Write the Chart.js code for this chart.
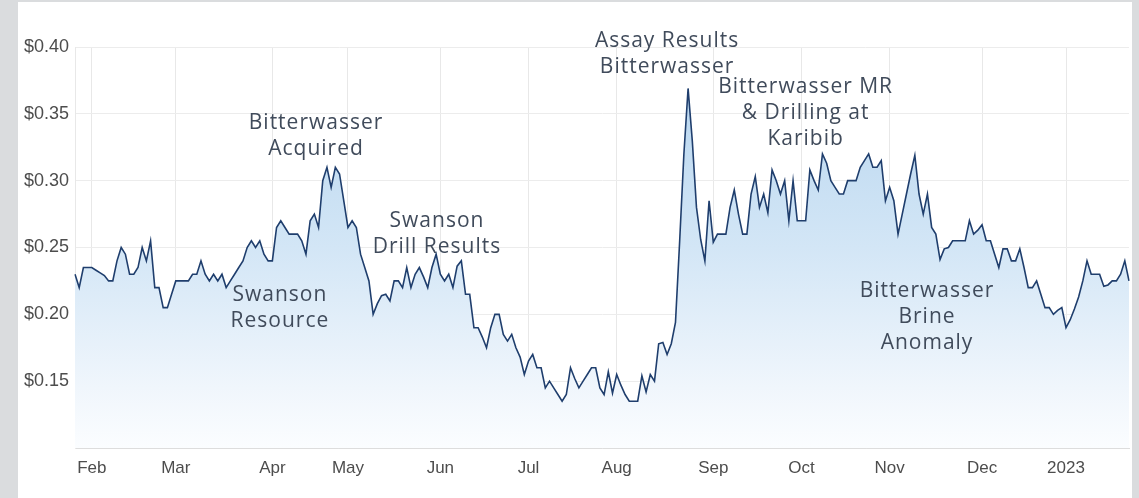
<!DOCTYPE html>
<html>
<head>
<meta charset="utf-8">
<script src="https://cdn.jsdelivr.net/npm/chart.js@4"></script>
<style>
  html, body { margin: 0; padding: 0; background: #dadcde; }
  body { width: 1139px; height: 498px; position: relative; overflow: hidden; }
  .card { position: absolute; left: 18px; top: 2px; width: 1114px; height: 496px; background: #fff; }
</style>
</head>
<body>
<div class="card"><canvas id="priceChart" width="1114" height="496"></canvas></div>
<script>
// daily closes, one array per month (ASX trading days)
const jan22 = [0.23, 0.22, 0.235, 0.235];
const feb22 = [0.235, 0.233, 0.231, 0.229, 0.225, 0.225, 0.24, 0.25, 0.245, 0.23,
               0.23, 0.235, 0.25, 0.24, 0.255, 0.22, 0.22, 0.205, 0.205, 0.215];
const mar22 = [0.225, 0.225, 0.225, 0.225, 0.23, 0.23, 0.24, 0.23, 0.225, 0.23,
               0.225, 0.23, 0.22, 0.225, 0.23, 0.235, 0.24, 0.25, 0.255, 0.25,
               0.255, 0.245, 0.24];
const apr22 = [0.24, 0.265, 0.27, 0.265, 0.26, 0.26, 0.26, 0.255, 0.245, 0.27,
               0.275, 0.265, 0.30, 0.31, 0.295, 0.31, 0.305, 0.285];
const may22 = [0.265, 0.27, 0.265, 0.245, 0.235, 0.225, 0.20, 0.208, 0.214, 0.215,
               0.21, 0.225, 0.225, 0.22, 0.235, 0.22, 0.23, 0.235, 0.228, 0.22,
               0.235, 0.245];
const jun22 = [0.23, 0.225, 0.23, 0.22, 0.236, 0.24, 0.215, 0.215, 0.19, 0.19,
               0.183, 0.175, 0.19, 0.2, 0.2, 0.185, 0.18, 0.185, 0.175, 0.168,
               0.155];
const jul22 = [0.165, 0.17, 0.16, 0.16, 0.145, 0.15, 0.145, 0.14, 0.135, 0.14,
               0.16, 0.152, 0.145, 0.15, 0.155, 0.16, 0.16, 0.145, 0.14, 0.157,
               0.141];
const aug22 = [0.155, 0.147, 0.14, 0.135, 0.135, 0.135, 0.154, 0.142, 0.155, 0.15,
               0.178, 0.179, 0.17, 0.178, 0.194, 0.255, 0.32, 0.369, 0.33, 0.28,
               0.256, 0.24, 0.285];
const sep22 = [0.254, 0.26, 0.26, 0.26, 0.28, 0.293, 0.275, 0.26, 0.26, 0.29,
               0.303, 0.28, 0.29, 0.276, 0.308, 0.30, 0.29, 0.30, 0.27, 0.30,
               0.27];
const oct22 = [0.27, 0.27, 0.308, 0.30, 0.293, 0.32, 0.313, 0.30, 0.295, 0.29,
               0.29, 0.30, 0.30, 0.30, 0.31, 0.315, 0.32, 0.31, 0.31, 0.315,
               0.285];
const nov22 = [0.295, 0.285, 0.26, 0.275, 0.29, 0.305, 0.319, 0.29, 0.275, 0.29,
               0.265, 0.26, 0.241, 0.249, 0.25, 0.255, 0.255, 0.255, 0.255, 0.27,
               0.26, 0.263];
const dec22 = [0.267, 0.255, 0.255, 0.245, 0.235, 0.249, 0.249, 0.24, 0.24, 0.249,
               0.235, 0.22, 0.22, 0.225, 0.215, 0.205, 0.205, 0.20, 0.203, 0.205];
const jan23 = [0.19, 0.196, 0.204, 0.213, 0.225, 0.24, 0.23, 0.23, 0.23, 0.221,
               0.222, 0.225, 0.225, 0.23, 0.24, 0.225];

const months = [jan22, feb22, mar22, apr22, may22, jun22, jul22, aug22, sep22, oct22, nov22, dec22, jan23];
const monthLabels = ['', 'Feb', 'Mar', 'Apr', 'May', 'Jun', 'Jul', 'Aug', 'Sep', 'Oct', 'Nov', 'Dec', '2023'];

const yTicks = [0.10, 0.15, 0.20, 0.25, 0.30, 0.35, 0.40];

// annotations: [lines, trading-day index of centre, price of first baseline]
const notes = [
  [['Bitterwasser', 'Acquired'], 57.4, 0.3386],
  [['Swanson', 'Resource'], 48.8, 0.2103],
  [['Swanson', 'Drill Results'], 86.2, 0.2655],
  [['Assay Results', 'Bitterwasser'], 141, 0.400],
  [['Bitterwasser MR', '& Drilling at', 'Karibib'], 174, 0.3653],
  [['Bitterwasser', 'Brine', 'Anomaly'], 202.9, 0.2131]
];

const prices = [];
const labels = [];
months.forEach((m, k) => {
  m.forEach((v, j) => {
    prices.push(v);
    labels.push(j === 0 ? monthLabels[k] : '');
  });
});

const notesPlugin = {
  id: 'notes',
  afterDatasetsDraw(chart) {
    const ctx = chart.ctx;
    const x = chart.scales.x, y = chart.scales.y;
    ctx.save();
    ctx.font = '21px "Open Sans"';
    ctx.letterSpacing = '1px';
    ctx.fillStyle = '#404b5b';
    ctx.textAlign = 'center';
    ctx.textBaseline = 'alphabetic';
    notes.forEach(n => {
      const px = x.getPixelForValue(n[1]);
      const py = y.getPixelForValue(n[2]);
      n[0].forEach((line, i) => ctx.fillText(line, px, py + i * 26));
    });
    ctx.restore();
  }
};

const ctx = document.getElementById('priceChart').getContext('2d');
new Chart(ctx, {
  type: 'line',
  data: {
    labels: labels,
    datasets: [{
      data: prices,
      borderColor: '#1f3e6d',
      borderWidth: 1.6,
      pointRadius: 0,
      tension: 0,
      fill: 'start',
      backgroundColor: function(context) {
        const area = context.chart.chartArea;
        if (!area) return 'rgba(180,212,238,0.6)';
        const g = context.chart.ctx.createLinearGradient(0, area.top, 0, area.bottom);
        g.addColorStop(0, '#b3d3ee');
        g.addColorStop(0.5, '#d3e6f6');
        g.addColorStop(0.85, '#f0f6fc');
        g.addColorStop(1, '#fbfdff');
        return g;
      }
    }]
  },
  options: {
    responsive: false,
    animation: false,
    layout: { padding: { top: 45, right: 3, left: 0, bottom: 0 } },
    plugins: { legend: { display: false }, tooltip: { enabled: false } },
    scales: {
      x: {
        grid: { color: '#e8e8e8', drawTicks: false },
        border: { color: '#dddddd' },
        afterFit: function(scale) { scale.height = 50; },
        ticks: {
          autoSkip: false,
          maxRotation: 0,
          padding: 10,
          color: '#4d4d4d',
          font: { family: '"Liberation Sans", Arial, sans-serif', size: 17 },
          callback: function(value) {
            const l = this.getLabelForValue(value);
            return l === '' ? null : l;
          }
        }
      },
      y: {
        min: yTicks[0],
        max: yTicks[yTicks.length - 1],
        afterBuildTicks: function(scale) { scale.ticks = yTicks.map(v => ({ value: v })); },
        afterFit: function(scale) { scale.width = 57; },
        grid: { color: '#ececec', drawTicks: false },
        border: { color: '#e8e8e8' },
        ticks: {
          padding: 6,
          color: '#4d4d4d',
          font: { family: '"Liberation Sans", Arial, sans-serif', size: 18 },
          callback: function(v) { return v <= 0.1001 ? '' : '$' + v.toFixed(2); }
        }
      }
    }
  },
  plugins: [notesPlugin]
});
</script>
</body>
</html>
